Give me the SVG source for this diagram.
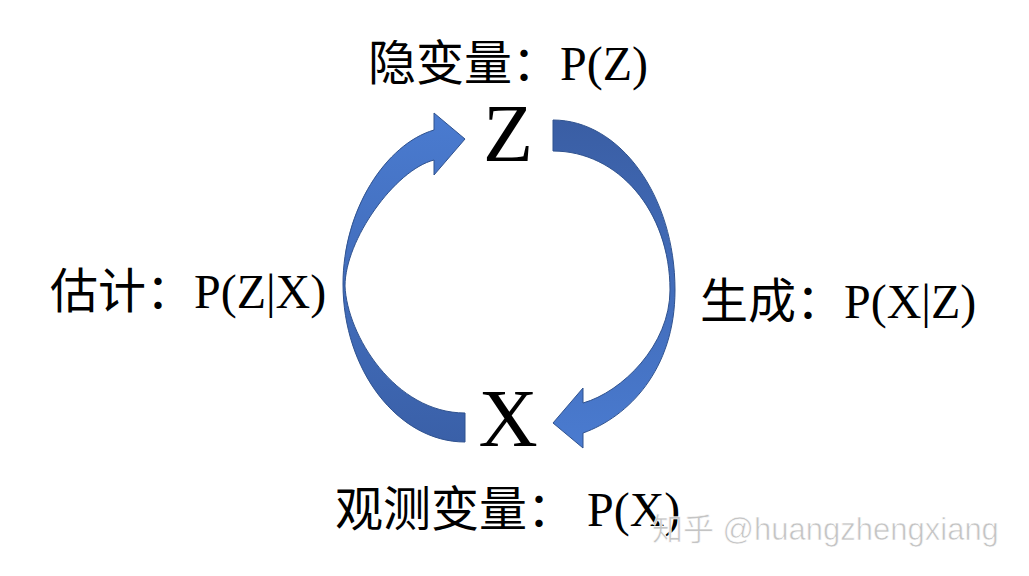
<svg xmlns="http://www.w3.org/2000/svg" width="1029" height="576" viewBox="0 0 1029 576">
<style>
.lbl{font-family:"Liberation Serif","Noto Sans CJK SC",serif;font-size:48px;fill:#000}
.big{font-family:"Liberation Serif",serif;font-size:82px;fill:#000;text-anchor:middle}
.arrow{stroke:#2F528F;stroke-width:1}
.wm{font-family:"Liberation Sans","Noto Sans CJK SC",sans-serif;font-size:31px;fill:#c4c4c4;stroke:#ffffff;stroke-width:0.6}
</style>
<defs>
<linearGradient id="gUp" x1="0" y1="0" x2="0" y2="1">
<stop offset="0" stop-color="#4A7BD0"/>
<stop offset="1" stop-color="#3A60A8"/>
</linearGradient>
<linearGradient id="gDown" x1="0" y1="0" x2="0" y2="1">
<stop offset="0" stop-color="#3A5EA4"/>
<stop offset="1" stop-color="#4A7BD0"/>
</linearGradient>
</defs>
<rect width="1029" height="576" fill="#ffffff"/>
<g id="connectors">
<path id="estimate-arrow" class="arrow" fill="url(#gUp)" d="M 465 442 C 398 442 343 370 343 284 C 343 210 386 144 434 130 L 434 113 L 465 139 L 434 175 L 434 160 C 395 170 345 240 345 286 C 347 335 395 413 465 413 Z"/>
<path id="generate-arrow" class="arrow" fill="url(#gDown)" d="M 553 120 C 620 120 675 196 675 290 C 675 370 628 417 583 433 L 583 448 L 553 423 L 583 388 L 583 403 C 622 392 670 345 670 290 C 670 211 618 151 553 151 Z"/>
</g>
<g id="node-Z">
<text class="big" x="508" y="161">Z</text>
<text class="lbl" x="368" y="80">隐变量：P(Z)</text>
</g>
<g id="node-X">
<text class="big" x="508" y="446">X</text>
<text class="lbl" x="335" y="526">观测变量： P(X)</text>
</g>
<g id="label-estimate">
<text class="lbl" x="50" y="308">估计：P(Z|X)</text>
</g>
<g id="label-generate">
<text class="lbl" x="700" y="318">生成：P(X|Z)</text>
</g>
<g id="watermark">
<text class="wm" x="652" y="540">知乎 @huangzhengxiang</text>
</g>
</svg>
